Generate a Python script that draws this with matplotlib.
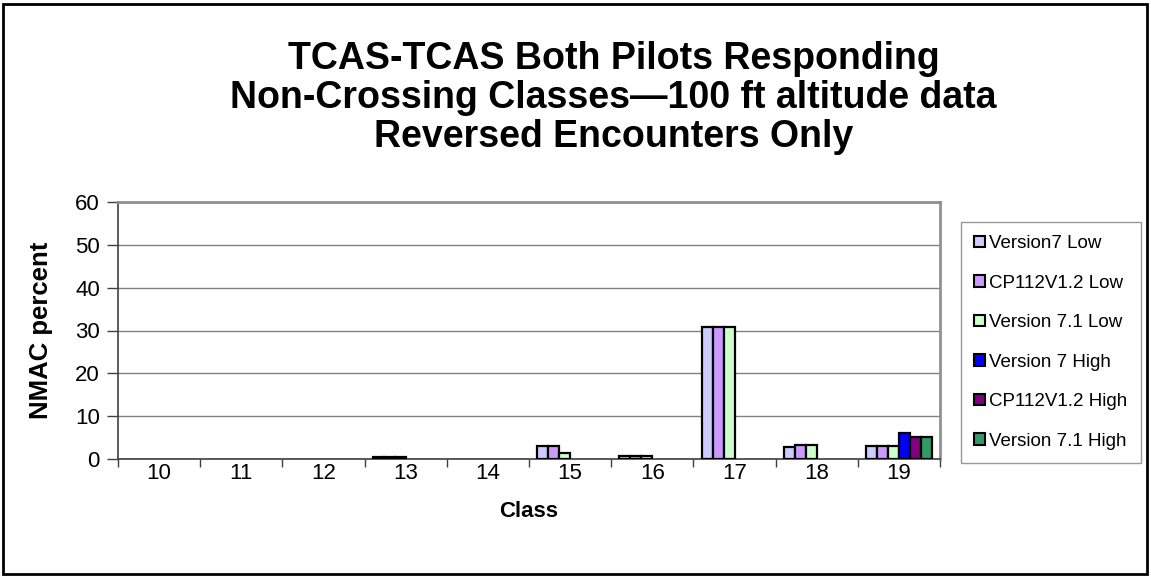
import matplotlib.pyplot as plt
import numpy as np
from matplotlib.patches import Rectangle, Patch

plt.rcParams['font.family'] = ['Liberation Sans', 'DejaVu Sans']

# data
classes = ['10', '11', '12', '13', '14', '15', '16', '17', '18', '19']
v7_low = [0, 0, 0, 0.4, 0, 3.1, 0.8, 30.8, 2.9, 3.0]
cp_low = [0, 0, 0, 0.4, 0, 3.1, 0.8, 30.8, 3.2, 3.0]
v71_low = [0, 0, 0, 0.4, 0, 1.5, 0.8, 30.8, 3.2, 3.0]
v7_high = [0, 0, 0, 0, 0, 0, 0, 0, 0, 6.1]
cp_high = [0, 0, 0, 0, 0, 0, 0, 0, 0, 5.1]
v71_high = [0, 0, 0, 0, 0, 0, 0, 0, 0, 5.2]

series = [v7_low, cp_low, v71_low, v7_high, cp_high, v71_high]
names = ['Version7 Low', 'CP112V1.2 Low', 'Version 7.1 Low',
         'Version 7 High', 'CP112V1.2 High', 'Version 7.1 High']
colors = ['#CCCCFF', '#CC99FF', '#CCFFCC', '#0000FF', '#800080', '#339966']

fig = plt.figure(figsize=(11.51, 5.77), dpi=100)
ax = fig.add_axes([118/1151, 1-459/577, (940-118)/1151, (459-202)/577])

x = np.arange(len(classes))
w = 1/7.5
for i, (vals, c) in enumerate(zip(series, colors)):
    ec = ['black' if v > 0 else 'none' for v in vals]
    ax.bar(x + (i-2.5)*w, vals, w, color=c, edgecolor=ec, linewidth=1.6, zorder=3)

ax.set_xlim(-0.5, len(classes)-0.5)
ax.set_ylim(0, 60)
ax.set_yticks(range(0, 61, 10))
ax.set_xticks(x)
ax.set_xticklabels(classes)
ax.set_xticks(np.arange(-0.5, len(classes), 1), minor=True)
ax.tick_params(axis='x', which='major', length=0, labelsize=16, pad=3)
ax.tick_params(axis='x', which='minor', length=6, width=1, color='#404040')
ax.tick_params(axis='y', length=8, width=1, color='#404040', labelsize=16, pad=5)
ax.yaxis.grid(True, color='#808080', linewidth=1)
ax.set_axisbelow(True)
for s in ['top', 'right']:
    ax.spines[s].set_color('#909090')
    ax.spines[s].set_linewidth(2)
for s in ['left', 'bottom']:
    ax.spines[s].set_color('#404040')
    ax.spines[s].set_linewidth(1.2)

ax.set_ylabel('NMAC percent', fontsize=18.5, fontweight='bold', labelpad=16)
ax.set_xlabel('Class', fontsize=16, fontweight='bold', labelpad=12)

fig.text(0.533, 0.83, 'TCAS-TCAS Both Pilots Responding\nNon-Crossing Classes\u2014100 ft altitude data\nReversed Encounters Only',
         ha='center', va='center', fontsize=27, fontweight='bold', linespacing=1.12)

handles = [Patch(facecolor=c, edgecolor='black', linewidth=1.5) for c in colors]
leg = fig.legend(handles, names, loc='upper left', bbox_to_anchor=(961/1151, 1-222/577),
                 fontsize=13.5, frameon=True, fancybox=False, edgecolor='#808080',
                 handlelength=0.6, handleheight=0.6, handletextpad=0.2,
                 labelspacing=1.2, borderpad=0.7, borderaxespad=0)
leg.get_frame().set_linewidth(1)

fig.patches.append(Rectangle((3/1151, 3/577), 1-7/1151, 1-7/577, transform=fig.transFigure,
                             fill=False, edgecolor='black', linewidth=2))

fig.savefig('out.png', dpi=100)
